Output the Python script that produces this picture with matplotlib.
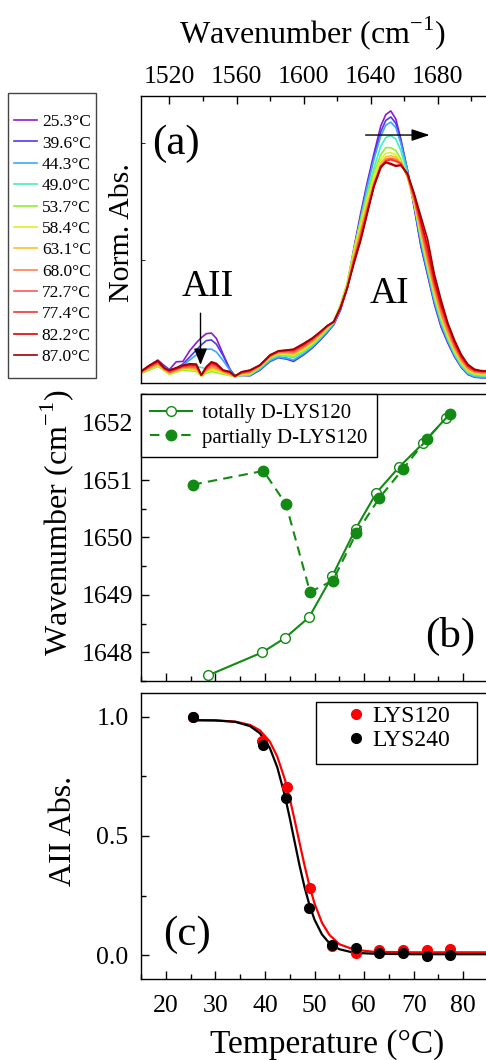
import matplotlib
matplotlib.use('Agg')
import matplotlib.pyplot as plt
from matplotlib.ticker import MultipleLocator, NullFormatter
from matplotlib.patches import Rectangle
from matplotlib.lines import Line2D

plt.rcParams['font.family'] = ['Liberation Serif', 'DejaVu Serif']
plt.rcParams['mathtext.fontset'] = 'custom'
plt.rcParams['mathtext.rm'] = 'Liberation Serif'
plt.rcParams['axes.linewidth'] = 1.0

# ---------------- data: panel (a) spectra ----------------
wavenumber = [1503, 1508, 1513, 1517, 1520, 1524, 1528, 1532, 1536, 1539,
              1542, 1545, 1548, 1552, 1556, 1559, 1563, 1568,
              1574, 1580, 1585, 1590, 1594, 1600, 1605, 1610, 1614, 1618, 1622, 1626,
              1630, 1634, 1638, 1642, 1646, 1649, 1652, 1655, 1658, 1662,
              1666, 1670, 1674, 1678, 1682, 1686, 1690, 1694, 1698, 1702, 1706, 1710]

temp_labels = ['25.3°C', '39.6°C', '44.3°C', '49.0°C', '53.7°C', '58.4°C',
               '63.1°C', '68.0°C', '72.7°C', '77.4°C', '82.2°C', '87.0°C']
temp_colors = ['#8c1acf', '#4a3af0', '#3aa8ff', '#40f0c0', '#90f030', '#e0f020',
               '#ffc020', '#ff8050', '#ff5858', '#ff3030', '#e00000', '#a00000']

abs_253 = [0.039, 0.060, 0.080, 0.060, 0.047, 0.074, 0.075, 0.112, 0.140, 0.158,
           0.172, 0.174, 0.155, 0.100, 0.048, 0.026, 0.030, 0.030,
           0.048, 0.078, 0.090, 0.086, 0.078, 0.100, 0.123, 0.152, 0.177, 0.205, 0.255, 0.340,
           0.470, 0.590, 0.700, 0.800, 0.895, 0.935, 0.948, 0.920, 0.850, 0.740,
           0.610, 0.475, 0.375, 0.275, 0.195, 0.140, 0.092, 0.055, 0.030, 0.022, 0.020, 0.020]
abs_396 = [0.036, 0.050, 0.066, 0.055, 0.046, 0.052, 0.066, 0.090, 0.115, 0.133,
           0.148, 0.150, 0.135, 0.095, 0.048, 0.024, 0.026, 0.025,
           0.045, 0.075, 0.088, 0.083, 0.075, 0.098, 0.121, 0.150, 0.175, 0.203, 0.254, 0.330,
           0.460, 0.580, 0.690, 0.790, 0.875, 0.915, 0.927, 0.905, 0.845, 0.740,
           0.615, 0.480, 0.380, 0.280, 0.200, 0.143, 0.094, 0.056, 0.030, 0.020, 0.018, 0.018]
abs_443 = [0.036, 0.050, 0.062, 0.054, 0.046, 0.050, 0.062, 0.080, 0.098, 0.110,
           0.118, 0.118, 0.108, 0.078, 0.045, 0.025, 0.028, 0.028,
           0.048, 0.078, 0.090, 0.086, 0.080, 0.102, 0.125, 0.154, 0.179, 0.206, 0.258, 0.335,
           0.460, 0.575, 0.685, 0.780, 0.860, 0.898, 0.909, 0.890, 0.835, 0.740,
           0.620, 0.490, 0.385, 0.285, 0.205, 0.147, 0.097, 0.058, 0.032, 0.022, 0.020, 0.020]
abs_490 = [0.034, 0.045, 0.058, 0.046, 0.040, 0.046, 0.052, 0.055, 0.058, 0.054,
           0.050, 0.052, 0.050, 0.042, 0.030, 0.022, 0.026, 0.028,
           0.052, 0.083, 0.096, 0.093, 0.088, 0.108, 0.130, 0.158, 0.183, 0.210, 0.265, 0.340,
           0.460, 0.565, 0.665, 0.750, 0.825, 0.855, 0.862, 0.850, 0.810, 0.730,
           0.625, 0.500, 0.395, 0.295, 0.213, 0.153, 0.102, 0.062, 0.036, 0.026, 0.024, 0.024]
abs_537 = [0.033, 0.046, 0.059, 0.042, 0.030, 0.038, 0.045, 0.043, 0.040, 0.024,
           0.034, 0.040, 0.036, 0.031, 0.026, 0.022, 0.028, 0.030,
           0.055, 0.086, 0.099, 0.097, 0.093, 0.112, 0.134, 0.162, 0.187, 0.214, 0.275, 0.350,
           0.465, 0.565, 0.655, 0.735, 0.795, 0.820, 0.820, 0.810, 0.780, 0.720,
           0.625, 0.510, 0.405, 0.305, 0.222, 0.160, 0.108, 0.068, 0.040, 0.030, 0.027, 0.027]
abs_584 = [0.035, 0.048, 0.062, 0.044, 0.032, 0.040, 0.048, 0.047, 0.044, 0.025,
           0.038, 0.046, 0.042, 0.035, 0.028, 0.022, 0.030, 0.033,
           0.057, 0.089, 0.102, 0.100, 0.097, 0.116, 0.138, 0.165, 0.190, 0.214, 0.272, 0.345,
           0.455, 0.550, 0.640, 0.720, 0.778, 0.800, 0.803, 0.795, 0.770, 0.715,
           0.625, 0.515, 0.410, 0.310, 0.228, 0.165, 0.112, 0.072, 0.044, 0.033, 0.030, 0.030]
abs_631 = [0.036, 0.050, 0.065, 0.046, 0.034, 0.043, 0.051, 0.051, 0.048, 0.026,
           0.042, 0.052, 0.047, 0.038, 0.030, 0.023, 0.032, 0.036,
           0.059, 0.091, 0.105, 0.104, 0.101, 0.121, 0.142, 0.168, 0.193, 0.214, 0.268, 0.340,
           0.445, 0.535, 0.625, 0.705, 0.765, 0.788, 0.792, 0.787, 0.768, 0.718,
           0.632, 0.525, 0.420, 0.320, 0.235, 0.172, 0.118, 0.076, 0.047, 0.036, 0.033, 0.033]
abs_680 = [0.037, 0.053, 0.068, 0.047, 0.036, 0.045, 0.054, 0.055, 0.052, 0.026,
           0.046, 0.058, 0.052, 0.040, 0.032, 0.023, 0.034, 0.038,
           0.060, 0.093, 0.107, 0.107, 0.105, 0.125, 0.146, 0.171, 0.195, 0.213, 0.265, 0.335,
           0.435, 0.525, 0.615, 0.695, 0.755, 0.780, 0.784, 0.780, 0.765, 0.720,
           0.638, 0.535, 0.430, 0.330, 0.245, 0.180, 0.124, 0.081, 0.051, 0.039, 0.036, 0.036]
abs_727 = [0.038, 0.056, 0.071, 0.049, 0.038, 0.047, 0.056, 0.058, 0.056, 0.027,
           0.050, 0.063, 0.057, 0.042, 0.034, 0.023, 0.035, 0.040,
           0.061, 0.094, 0.109, 0.110, 0.109, 0.129, 0.149, 0.174, 0.197, 0.213, 0.263, 0.332,
           0.430, 0.515, 0.605, 0.690, 0.750, 0.775, 0.781, 0.775, 0.765, 0.722,
           0.643, 0.545, 0.440, 0.340, 0.255, 0.190, 0.130, 0.086, 0.055, 0.041, 0.038, 0.038]
abs_774 = [0.039, 0.058, 0.074, 0.050, 0.040, 0.049, 0.058, 0.061, 0.060, 0.027,
           0.053, 0.067, 0.061, 0.043, 0.036, 0.024, 0.036, 0.042,
           0.062, 0.095, 0.110, 0.112, 0.113, 0.132, 0.152, 0.176, 0.198, 0.213, 0.262, 0.330,
           0.425, 0.505, 0.600, 0.685, 0.748, 0.773, 0.778, 0.772, 0.765, 0.726,
           0.648, 0.555, 0.455, 0.350, 0.265, 0.198, 0.137, 0.090, 0.058, 0.043, 0.040, 0.040]
abs_822 = [0.040, 0.060, 0.076, 0.051, 0.043, 0.051, 0.060, 0.064, 0.063, 0.028,
           0.055, 0.071, 0.065, 0.044, 0.038, 0.024, 0.038, 0.044,
           0.062, 0.097, 0.111, 0.114, 0.116, 0.135, 0.154, 0.178, 0.199, 0.213, 0.262, 0.330,
           0.420, 0.500, 0.595, 0.690, 0.755, 0.770, 0.765, 0.758, 0.760, 0.728,
           0.655, 0.565, 0.475, 0.360, 0.275, 0.205, 0.143, 0.095, 0.062, 0.045, 0.041, 0.041]
abs_870 = [0.041, 0.062, 0.078, 0.052, 0.045, 0.053, 0.062, 0.067, 0.066, 0.028,
           0.057, 0.074, 0.068, 0.045, 0.040, 0.024, 0.039, 0.045,
           0.063, 0.098, 0.112, 0.115, 0.118, 0.138, 0.156, 0.179, 0.199, 0.214, 0.262, 0.330,
           0.415, 0.495, 0.590, 0.685, 0.752, 0.768, 0.762, 0.755, 0.758, 0.730,
           0.660, 0.580, 0.500, 0.380, 0.290, 0.210, 0.150, 0.100, 0.065, 0.048, 0.043, 0.042]

spectra = [abs_253, abs_396, abs_443, abs_490, abs_537, abs_584,
           abs_631, abs_680, abs_727, abs_774, abs_822, abs_870]

# ---------------- data: panel (b) peak position ----------------
t_total = [28.6, 39.5, 44.05, 48.9, 53.6, 58.3, 62.5, 67.0, 71.9, 76.5]
wn_total = [1647.60, 1648.00, 1648.25, 1648.61, 1649.33, 1650.15, 1650.78, 1651.22, 1651.64, 1652.08]
t_partial = [25.4, 39.7, 44.25, 49.1, 53.7, 58.4, 63.1, 67.9, 72.7, 77.4]
wn_partial = [1650.92, 1651.16, 1650.58, 1649.05, 1649.25, 1650.07, 1650.69, 1651.20, 1651.72, 1652.16]

# ---------------- data: panel (c) AII absorbance ----------------
t_120 = [25.4, 39.5, 44.5, 49.1, 53.6, 58.4, 63.1, 67.9, 72.7, 77.4]
aii_120 = [1.0, 0.898, 0.705, 0.282, 0.040, 0.010, 0.024, 0.024, 0.024, 0.025]
t_240 = [25.4, 39.6, 44.2, 48.9, 53.6, 58.4, 63.1, 67.9, 72.7, 77.4]
aii_240 = [1.0, 0.882, 0.659, 0.198, 0.045, 0.031, 0.010, 0.010, -0.001, 0.0]

# fitted sigmoid curves
t_fit = [25.4, 30, 34, 37, 39, 41, 42.5, 44, 45, 46, 47, 48, 49, 50, 51.5, 53, 55, 58, 62, 70, 86]
fit_120 = [0.985, 0.984, 0.979, 0.965, 0.942, 0.895, 0.832, 0.738, 0.658, 0.566, 0.470,
           0.376, 0.290, 0.218, 0.137, 0.086, 0.047, 0.024, 0.015, 0.013, 0.013]
fit_240 = [0.985, 0.984, 0.978, 0.960, 0.930, 0.868, 0.787, 0.671, 0.576, 0.475, 0.375,
           0.285, 0.210, 0.150, 0.088, 0.051, 0.026, 0.011, 0.007, 0.005, 0.005]

# ---------------- figure ----------------
W, H = 486, 1060
fig = plt.figure(figsize=(W / 100, H / 100), dpi=100)


def px_box(left, top, right, bottom):
    return [left / W, 1 - bottom / H, (right - left) / W, (bottom - top) / H]


ax_a = fig.add_axes(px_box(141, 96, 488, 383))
ax_b = fig.add_axes(px_box(141, 394, 488, 681))
ax_c = fig.add_axes(px_box(141, 692.7, 488, 979.3))

green = '#138a13'
tick_fs = 18.5

# ----- panel (a)
for y, c in zip(spectra, temp_colors):
    ax_a.plot(wavenumber, y, color=c, lw=1.2)
ax_a.set_xlim(1503, 1710)
ax_a.set_ylim(0, 1)
ax_a.xaxis.tick_top()
ax_a.xaxis.set_major_locator(MultipleLocator(40))
ax_a.xaxis.set_minor_locator(MultipleLocator(20))
ax_a.tick_params(axis='x', which='both', direction='in', top=True, bottom=False,
                 labelsize=tick_fs, pad=6)
ax_a.tick_params(axis='x', which='major', length=6, width=1)
ax_a.tick_params(axis='x', which='minor', length=3.5, width=1)
ax_a.set_yticks([0.43, 0.835])
ax_a.tick_params(axis='y', direction='in', length=3, width=0.6, labelleft=False)
ax_a.set_xlabel('Wavenumber (cm$^{-1}$)', fontsize=23)
ax_a.xaxis.set_label_position('top')
ax_a.xaxis.set_label_coords(0.492, 1.2195)
ax_a.xaxis.label.set_va('center')
ax_a.set_ylabel('Norm. Abs.', fontsize=21.5)
ax_a.yaxis.set_label_coords(-0.055, 0.523)
ax_a.yaxis.label.set_va('center')

ax_a.annotate('', xy=(1675.2, 0.864), xytext=(1637, 0.864),
              arrowprops=dict(arrowstyle='-|>,head_length=0.55,head_width=0.18',
                              color='k', lw=1.0, shrinkA=0, shrinkB=0, mutation_scale=20))
ax_a.annotate('', xy=(1538.5, 0.063), xytext=(1538.5, 0.243),
              arrowprops=dict(arrowstyle='-|>,head_length=0.5,head_width=0.2',
                              color='k', lw=1.0, shrinkA=0, shrinkB=0, mutation_scale=20))
ax_a.text(0.100, 0.835, '(a)', transform=ax_a.transAxes, fontsize=31, ha='center', va='center')
ax_a.text(0.191, 0.336, 'AII', transform=ax_a.transAxes, fontsize=27, ha='center', va='center')
ax_a.text(0.716, 0.3125, 'AI', transform=ax_a.transAxes, fontsize=27, ha='center', va='center')

handles_a = [Line2D([], [], color=c, lw=1.2) for c in temp_colors]
fig.legend(handles_a, temp_labels, loc='upper left',
           bbox_to_anchor=(14 / W, 1 - 114 / H), frameon=False, fontsize=12.5,
           handlelength=1.3, handletextpad=0.3, labelspacing=0.3, borderpad=0,
           borderaxespad=0)
fig.patches.append(Rectangle((8.3 / W, 1 - 378 / H), 88 / W, 285 / H,
                             transform=fig.transFigure, fill=False,
                             edgecolor='#444444', lw=1.0))

# ----- panel (b)
ax_b.plot(t_total, wn_total, '-o', color=green, lw=1.5, ms=7,
          mfc='white', mec=green, mew=1.0, label='totally D-LYS120')
ax_b.plot(t_partial, wn_partial, 'o', color=green, ls=(0, (4.5, 3)), lw=1.5, ms=7.5,
          label='partially D-LYS120')
ax_b.set_xlim(15, 85)
ax_b.set_ylim(1647.5, 1652.5)
ax_b.xaxis.set_major_locator(MultipleLocator(10))
ax_b.xaxis.set_minor_locator(MultipleLocator(5))
ax_b.yaxis.set_major_locator(MultipleLocator(1))
ax_b.yaxis.set_minor_locator(MultipleLocator(0.5))
ax_b.xaxis.set_major_formatter(NullFormatter())
ax_b.tick_params(which='both', direction='in', width=1)
ax_b.tick_params(which='major', length=6)
ax_b.tick_params(which='minor', length=3.5)
ax_b.tick_params(axis='y', labelsize=tick_fs, pad=5.5)
ax_b.set_ylabel('Wavenumber (cm$^{-1}$)', fontsize=23)
ax_b.yaxis.set_label_coords(-0.2406, 0.5505)
ax_b.yaxis.label.set_va('center')
leg_b = ax_b.legend(loc='upper left', borderaxespad=0, fontsize=15, handlelength=2.0,
                    handletextpad=0.5, borderpad=0.45, labelspacing=0.25,
                    fancybox=False, edgecolor='black', framealpha=1)
leg_b.get_frame().set_linewidth(1.0)
ax_b.text(0.890, 0.155, '(b)', transform=ax_b.transAxes, fontsize=31, ha='center', va='center')

# ----- panel (c)
ax_c.plot(t_fit, fit_120, color='red', lw=1.6)
ax_c.plot(t_fit, fit_240, color='black', lw=1.6)
ax_c.plot(t_120, aii_120, 'o', color='red', ms=7, label='LYS120')
ax_c.plot(t_240, aii_240, 'o', color='black', ms=7, label='LYS240')
ax_c.set_xlim(15, 85)
ax_c.set_ylim(-0.1, 1.1)
ax_c.xaxis.set_major_locator(MultipleLocator(10))
ax_c.xaxis.set_minor_locator(MultipleLocator(5))
ax_c.yaxis.set_major_locator(MultipleLocator(0.5))
ax_c.yaxis.set_minor_locator(MultipleLocator(0.25))
ax_c.tick_params(which='both', direction='in', width=1)
ax_c.tick_params(which='major', length=6)
ax_c.tick_params(which='minor', length=3.5)
ax_c.tick_params(axis='y', labelsize=tick_fs, pad=9)
ax_c.tick_params(axis='x', labelsize=tick_fs, pad=11)
ax_c.set_ylabel('AII Abs.', fontsize=23)
ax_c.yaxis.set_label_coords(-0.2233, 0.518)
ax_c.yaxis.label.set_va('center')
ax_c.set_xlabel('Temperature (°C)', fontsize=24)
ax_c.xaxis.set_label_coords(0.537, -0.229)
ax_c.xaxis.label.set_va('center')
ax_c.legend(loc='upper left', bbox_to_anchor=(344 / W, 1 - 705.5 / H),
            bbox_transform=fig.transFigure, frameon=False, fontsize=17,
            handlelength=1.0, handletextpad=0.21, labelspacing=0.1,
            borderpad=0, borderaxespad=0, numpoints=1)
ax_c.add_patch(Rectangle((315.7 / W, 1 - 764 / H), 161 / W, 62.3 / H,
                         transform=fig.transFigure, fill=False,
                         edgecolor='black', lw=1.0, clip_on=False))
ax_c.text(0.134, 0.155, '(c)', transform=ax_c.transAxes, fontsize=31, ha='center', va='center')

fig.savefig('out.png', dpi=100)
